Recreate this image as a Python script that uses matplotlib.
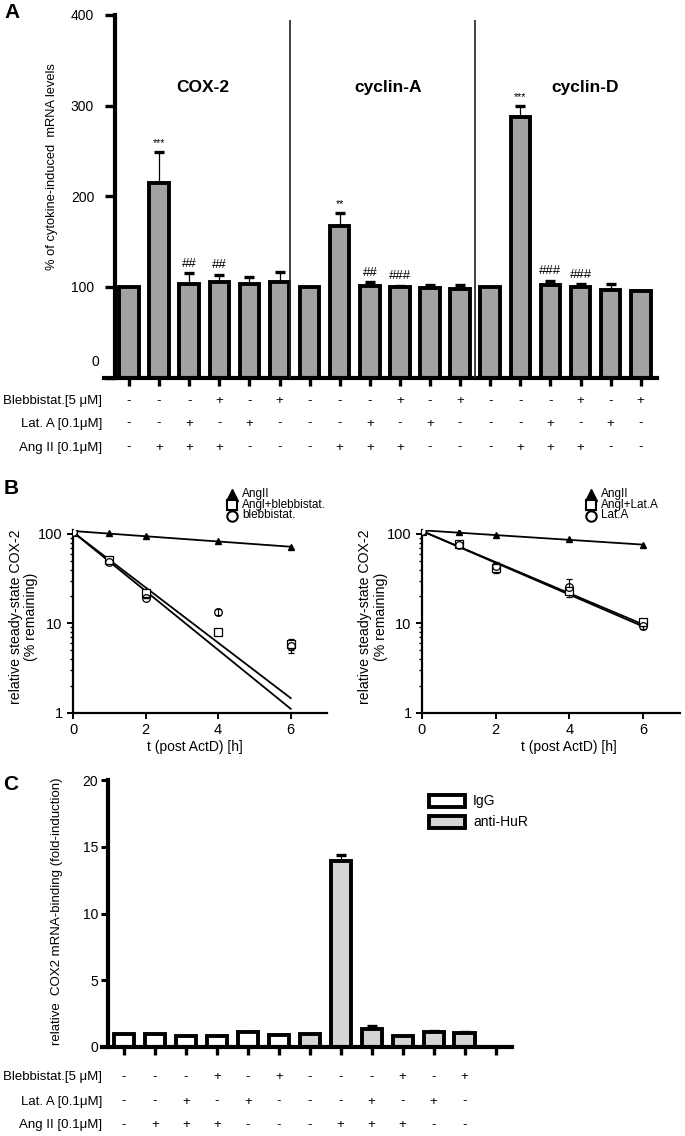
import numpy as np
import matplotlib
matplotlib.use("Agg")
import matplotlib.pyplot as plt
from matplotlib.lines import Line2D
from matplotlib.patches import Rectangle
from matplotlib.transforms import offset_copy, blended_transform_factory
from matplotlib.ticker import FixedLocator, NullFormatter, LogLocator

plt.rcParams['font.family'] = ['Liberation Sans', 'DejaVu Sans']

# ---------------- data ----------------
# Panel A
A_groups = ["COX-2", "cyclin-A", "cyclin-D"]
A_means = [100, 215, 103, 105, 103, 105,
           100, 167, 101, 100, 99, 98,
           100, 287, 102, 100, 97, 95]
A_err = [0, 34, 12, 8, 8, 11,
         0, 15, 4, 1.5, 2.6, 4.4,
         0, 13, 5, 3, 6, 0]
A_annot = ['', '***', '##', '##', '', '',
           '', '**', '##', '###', '', '',
           '', '***', '###', '###', '', '']
A_yticks = [0, 100, 200, 300, 400]
row_labels = ["Blebbistat.[5 \u03bcM]", "Lat. A [0.1\u03bcM]", "Ang II [0.1\u03bcM]"]
A_bleb = ['-', '-', '-', '+', '-', '+'] * 3
A_lat = ['-', '-', '+', '-', '+', '-'] * 3
A_ang = ['-', '+', '+', '+', '-', '-'] * 3

# Panel B
t_h = [0, 1, 2, 4, 6]
B1_angII = [108, 102, 94, 84, 71]
B1_angII_bleb = [106, 51, 22, 8, 5.8]
B1_angII_bleb_err = [0, 0, 0, 0, 0.8]
B1_bleb = [104, 48, 19, 13.4, 5.5]
B1_bleb_err = [0, 0, 0, 1.0, 0.9]
B1_fit_t = [0, 6]
B1_fit_angII = [108, 72]
B1_fit_angII_bleb = [105, 1.45]
B1_fit_bleb = [105, 1.1]
B1_legend = ["AngII", "Angl+blebbistat.", "blebbistat."]

B2_angII = [110, 106, 97, 88, 76]
B2_angII_lat = [108, 78, 42, 23, 10.2]
B2_angII_lat_err = [0, 0, 5, 0, 1.0]
B2_lat = [107, 76, 44, 25.5, 9.3]
B2_lat_err = [0, 0, 4, 6, 0.6]
B2_fit_t = [0, 6]
B2_fit_angII = [110, 76]
B2_fit_angII_lat = [108, 9.7]
B2_fit_lat = [108, 9.2]
B2_legend = ["AngII", "Angl+Lat.A", "Lat.A"]
B_xticks = [0, 2, 4, 6]
B_yticks = [1, 10, 100]

# Panel C
C_vals = [1.0, 1.0, 0.85, 0.85, 1.1, 0.92,
          1.0, 13.9, 1.35, 0.85, 1.15, 1.05]
C_err = [0, 0, 0, 0, 0.05, 0, 0, 0.5, 0.2, 0, 0.05, 0.05]
C_series = ['IgG'] * 6 + ['anti-HuR'] * 6
C_yticks = [0, 5, 10, 15, 20]
C_bleb = ['-', '-', '-', '+', '-', '+', '-', '-', '-', '+', '-', '+']
C_lat = ['-', '-', '+', '-', '+', '-', '-', '-', '+', '-', '+', '-']
C_ang = ['-', '+', '+', '+', '-', '-', '-', '+', '+', '+', '-', '-']

# ---------------- figure ----------------
W, H = 685, 1136
fig = plt.figure(figsize=(W / 100, H / 100), dpi=100)

def fx(px):
    return px / W

def fy(py):
    return 1 - py / H

# ===== Panel A =====
axA = fig.add_axes([fx(104), fy(377.5), fx(657 - 104), (377.5 - 15) / H])
xA = np.arange(len(A_means))
axA.bar(xA, A_means, width=0.65, color='#a2a2a2', edgecolor='black',
        linewidth=2.8, zorder=2)
errA = np.array(A_err)
mA = errA > 0
axA.errorbar(xA[mA], np.array(A_means)[mA],
             yerr=[np.zeros(mA.sum()), errA[mA]], fmt='none', ecolor='black',
             elinewidth=0.9, capsize=3.6, capthick=2.4, zorder=1)
for xi, m, e, s in zip(xA, A_means, A_err, A_annot):
    if s:
        axA.text(xi, m + e + 4, s, ha='center', va='bottom',
                 fontsize=9.5 if '#' in s else 7.5)
axA.set_xlim(-0.83, 17.54)
axA.set_ylim(0, 400)
axA.spines['left'].set_position(('data', -0.465))
for sp in ['top', 'right']:
    axA.spines[sp].set_visible(False)
axA.spines['left'].set_linewidth(3)
axA.spines['bottom'].set_linewidth(3)
axA.set_xticks(xA)
axA.set_xticklabels([])
axA.tick_params(axis='x', direction='out', length=6, width=2.4)
axA.set_yticks(A_yticks)
axA.set_yticklabels([''] + [str(v) for v in A_yticks[1:]], fontsize=10)
axA.tick_params(axis='y', direction='out', length=7, width=2.4, pad=8)
zero_tr = offset_copy(axA.transData, fig=fig, x=-16, y=15, units='dots')
axA.text(-0.465, 0, '0', transform=zero_tr, ha='right', va='center', fontsize=10)
axA.vlines([5.35, 11.5], 0, 395, color='#222222', linewidth=1.2, zorder=3)
for gx, g in zip([2.46, 8.6, 15.15], A_groups):
    axA.text(gx, 320, g, ha='center', va='center', fontsize=12.5, fontweight='bold')
fig.text(fx(52), fy(167), "% of cytokine-induced  mRNA levels", rotation=90,
         ha='center', va='center', fontsize=9.3)
fig.text(fx(12), fy(13), "A", fontsize=15, fontweight='bold', ha='center', va='center')

trA = blended_transform_factory(axA.transData, fig.transFigure)
for row, ypx in zip([A_bleb, A_lat, A_ang], [401, 423.5, 447.5]):
    for xi, s in zip(xA, row):
        axA.text(xi, fy(ypx), s, transform=trA, ha='center', va='center',
                 fontsize=9.5, clip_on=False)
for lab, ypx in zip(row_labels, [401, 423.5, 447.5]):
    fig.text(fx(102), fy(ypx), lab, ha='right', va='center', fontsize=9.5)

# ===== Panel B =====
def panel_b(ax, angII, sq, sq_err, ci, ci_err, fit_t, fits, legend_labels,
            leg_mx, ylab_x, xlab_x):
    ax.set_yscale('log')
    ax.set_xlim(0, 7)
    ax.set_ylim(1, 110)
    for f in fits:
        ax.plot(fit_t, f, color='black', linewidth=1.3, zorder=2)
    ax.plot(t_h, angII, linestyle='none', marker='^', color='black',
            markersize=5, zorder=3)
    ax.errorbar(t_h, sq, yerr=sq_err, fmt='s', mfc='white', mec='black',
                ecolor='black', markersize=5.5, mew=0.9, elinewidth=0.8,
                capsize=2.5, zorder=4)
    ax.errorbar(t_h, ci, yerr=ci_err, fmt='o', mfc='none', mec='black',
                ecolor='black', markersize=5.5, mew=0.9, elinewidth=0.8,
                capsize=2.5, zorder=4)
    for sp in ['top', 'right']:
        ax.spines[sp].set_visible(False)
    ax.spines['left'].set_linewidth(1.6)
    ax.spines['bottom'].set_linewidth(1.6)
    ax.set_xticks(B_xticks)
    ax.set_xticklabels([str(v) for v in B_xticks], fontsize=10.5)
    ax.yaxis.set_major_locator(FixedLocator(B_yticks))
    ax.set_yticklabels([str(v) for v in B_yticks], fontsize=10.5)
    ax.yaxis.set_minor_locator(LogLocator(base=10, subs=np.arange(2, 10)))
    ax.yaxis.set_minor_formatter(NullFormatter())
    ax.tick_params(axis='both', which='major', direction='out', length=4, width=1.4)
    ax.tick_params(axis='y', which='minor', direction='out', length=2.5, width=1)
    fig.text(fx(ylab_x), fy(617), "relative steady-state COX-2\n(% remaining)",
             rotation=90, ha='center', va='center', fontsize=10.2, linespacing=1.15)
    fig.text(fx(xlab_x), fy(747), "t (post ActD) [h]", ha='center', va='center',
             fontsize=10)
    # legend
    ys = [494.5, 505, 515.5]
    specs = [dict(marker='^', color='black', markersize=8.5, linestyle='none'),
             dict(marker='s', mfc='white', mec='black', mew=1.5, markersize=7.5, linestyle='none'),
             dict(marker='o', mfc='white', mec='black', mew=1.5, markersize=7.5, linestyle='none')]
    for yy, sp_, lab in zip(ys, specs, legend_labels):
        fig.add_artist(Line2D([fx(leg_mx)], [fy(yy)], transform=fig.transFigure, **sp_))
        fig.text(fx(leg_mx + 10), fy(yy), lab, ha='left', va='center', fontsize=8.5)

axB1 = fig.add_axes([fx(73), fy(712.5), fx(254), (712.5 - 530.3) / H])
panel_b(axB1, B1_angII, B1_angII_bleb, B1_angII_bleb_err, B1_bleb, B1_bleb_err,
        B1_fit_t, [B1_fit_angII, B1_fit_angII_bleb, B1_fit_bleb], B1_legend,
        232, 23.5, 195)
axB2 = fig.add_axes([fx(422), fy(712.5), fx(258), (712.5 - 530.3) / H])
panel_b(axB2, B2_angII, B2_angII_lat, B2_angII_lat_err, B2_lat, B2_lat_err,
        B2_fit_t, [B2_fit_angII, B2_fit_angII_lat, B2_fit_lat], B2_legend,
        591, 373, 569)
fig.text(fx(11), fy(489), "B", fontsize=15, fontweight='bold', ha='center', va='center')

# ===== Panel C =====
axC = fig.add_axes([fx(101.7), fy(1047), fx(511.6 - 101.7), (1047 - 780) / H])
xC = np.arange(len(C_vals))
colC = {'IgG': 'white', 'anti-HuR': '#d5d5d5'}
axC.bar(xC, C_vals, width=0.65, color=[colC[s] for s in C_series],
        edgecolor='black', linewidth=2.8, zorder=2)
errC = np.array(C_err)
mC = errC > 0
axC.errorbar(xC[mC], np.array(C_vals)[mC], yerr=[np.zeros(mC.sum()), errC[mC]],
             fmt='none', ecolor='black', elinewidth=0.9, capsize=3.6, capthick=2.4,
             zorder=1)
axC.set_xlim(-0.72, 12.52)
axC.set_ylim(0, 20)
axC.spines['left'].set_position(('data', -0.517))
for sp in ['top', 'right']:
    axC.spines[sp].set_visible(False)
axC.spines['left'].set_linewidth(3)
axC.spines['bottom'].set_linewidth(3)
axC.set_xticks(np.arange(len(C_vals) + 1))
axC.set_xticklabels([])
axC.tick_params(axis='x', direction='out', length=6, width=2.4)
axC.set_yticks(C_yticks)
axC.set_yticklabels([str(v) for v in C_yticks], fontsize=10)
axC.tick_params(axis='y', direction='out', length=5, width=2.2, pad=2)
fig.text(fx(57), fy(911), "relative  COX2 mRNA-binding (fold-induction)", rotation=90,
         ha='center', va='center', fontsize=9.5)
fig.text(fx(11), fy(785), "C", fontsize=15, fontweight='bold', ha='center', va='center')
# legend
for yy, lab in zip([801, 821.5], ['IgG', 'anti-HuR']):
    fig.add_artist(Rectangle((fx(429), fy(yy + 6)), fx(36), 12 / H,
                             transform=fig.transFigure, facecolor=colC[lab],
                             edgecolor='black', linewidth=2.8))
    fig.text(fx(473), fy(yy), lab, ha='left', va='center', fontsize=10)

trC = blended_transform_factory(axC.transData, fig.transFigure)
for row, ypx in zip([C_bleb, C_lat, C_ang], [1077, 1101.5, 1125]):
    for xi, s in zip(xC, row):
        axC.text(xi, fy(ypx), s, transform=trC, ha='center', va='center',
                 fontsize=9.5, clip_on=False)
for lab, ypx in zip(row_labels, [1077, 1101.5, 1125]):
    fig.text(fx(102), fy(ypx), lab, ha='right', va='center', fontsize=9.5)

fig.savefig("out.png", dpi=100)
